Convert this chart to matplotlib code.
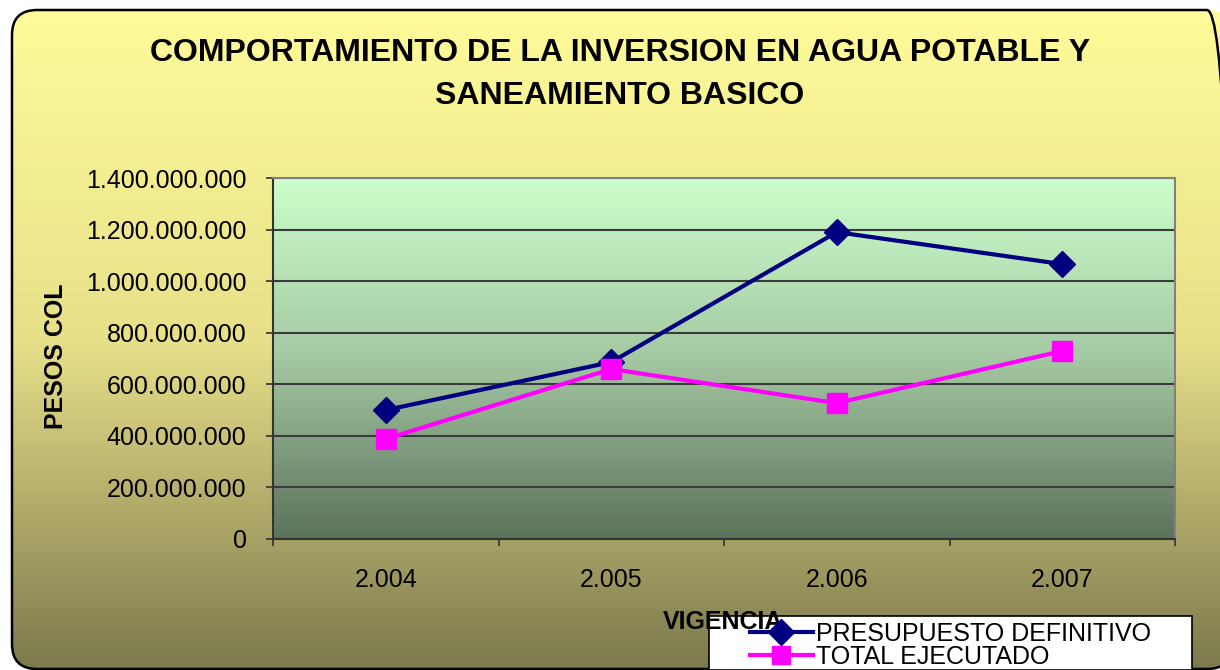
import numpy as np
import matplotlib
matplotlib.use("Agg")
import matplotlib.pyplot as plt
from matplotlib.patches import FancyBboxPatch, Rectangle
from matplotlib.colors import LinearSegmentedColormap
from matplotlib.ticker import FuncFormatter

plt.rcParams['font.family'] = ['Liberation Sans', 'DejaVu Sans']

categories = ["2.004", "2.005", "2.006", "2.007"]
presupuesto = [500e6, 686e6, 1190e6, 1066e6]
ejecutado = [388e6, 659e6, 527e6, 729e6]
series_names = ["PRESUPUESTO DEFINITIVO", "TOTAL EJECUTADO"]
title_lines = ["COMPORTAMIENTO DE LA INVERSION EN AGUA POTABLE Y", "SANEAMIENTO BASICO"]

W, H = 1220, 670
fig = plt.figure(figsize=(W/100, H/100), dpi=100)
fig.patch.set_facecolor("white")

# background gradient with rounded border (pixel coords, y up)
bg = fig.add_axes([0, 0, 1, 1], zorder=-10)
bg.set_xlim(0, W); bg.set_ylim(0, H); bg.axis("off")
bgcmap = LinearSegmentedColormap.from_list("bg", ["#FFFB9A", "#E8E089", "#7C794D"])
grad = np.linspace(0, 1, 256).reshape(-1, 1)
bx0, bx1, by0, by1 = 12, 1232, H - 669, H - 10
im = bg.imshow(grad, cmap=bgcmap, extent=[bx0, bx1, by0, by1], aspect="auto", origin="upper")
box = FancyBboxPatch((bx0, by0), bx1 - bx0, by1 - by0, boxstyle="round,pad=0,rounding_size=25",
                     fc="none", ec="black", lw=1.8)
bg.add_patch(box)
im.set_clip_path(box)

# plot area
ax_l, ax_b = 273/W, (H-539)/H
ax_w, ax_h = (1175-273)/W, (539-178)/H
ax = fig.add_axes([ax_l, ax_b, ax_w, ax_h])
x = np.arange(len(categories))
ax.set_xlim(-0.5, len(categories) - 0.5)
ax.set_ylim(0, 1.4e9)
pcmap = LinearSegmentedColormap.from_list("pa", ["#CCFFCC", "#A4C8A2", "#5B725B"])
ax.imshow(grad, cmap=pcmap, extent=[-0.5, len(categories) - 0.5, 0, 1.4e9], aspect="auto",
          origin="upper", zorder=0)

ax.set_yticks(np.arange(0, 1.4e9 + 1, 2e8))
ax.yaxis.set_major_formatter(FuncFormatter(lambda v, p: f"{int(round(v)):,}".replace(",", ".")))
ax.grid(axis="y", color="#3A3A3A", lw=1.5, zorder=1)
ax.set_xticks(x)
ax.set_xticklabels(categories)
ax.set_xticks(np.arange(-0.5, len(categories)), minor=True)
ax.tick_params(axis="x", which="major", length=0, pad=21, labelsize=18)
ax.tick_params(axis="x", which="minor", length=5, width=1.2, color="#333333", direction="out")
ax.tick_params(axis="y", length=5, width=1.2, color="#333333", labelsize=18, pad=14)
for s in ["top", "right"]:
    ax.spines[s].set_color("#808080"); ax.spines[s].set_linewidth(1.5)
for s in ["left", "bottom"]:
    ax.spines[s].set_color("#333333"); ax.spines[s].set_linewidth(1.5)

l1, = ax.plot(x, presupuesto, color="#000080", lw=3, marker="D", ms=13.5, mfc="#000080",
              mec="#000080", zorder=3, label=series_names[0])
l2, = ax.plot(x, ejecutado, color="#FF00FF", lw=3, marker="s", ms=14, mfc="#FF00FF",
              mec="#FF00FF", zorder=4, label=series_names[1])

ax.set_ylabel("PESOS COL", fontsize=18, fontweight="bold")
ax.yaxis.set_label_coords((68 - 273) / 902, 0.505)
fig.text(723/W, 1 - 622/H, "VIGENCIA", ha="center", va="center", fontsize=18, fontweight="bold")

fig.text(620/W, 1 - 53/H, title_lines[0], ha="center", va="center", fontsize=23, fontweight="bold")
fig.text(620/W, 1 - 96/H, title_lines[1], ha="center", va="center", fontsize=23, fontweight="bold")

# legend box
bg.add_patch(Rectangle((709, 0), 1192 - 709, H - 616, fc="white", ec="black", lw=1.2, zorder=30))
leg = fig.legend(handles=[l1, l2], loc="upper left", bbox_to_anchor=(750/W, 1 - 622/H),
                 fontsize=18, frameon=False, handlelength=2.5, handletextpad=0.15,
                 borderpad=0, labelspacing=-0.05, borderaxespad=0, markerscale=0.95)
leg.set_zorder(40)

fig.savefig("out.png", dpi=100)
